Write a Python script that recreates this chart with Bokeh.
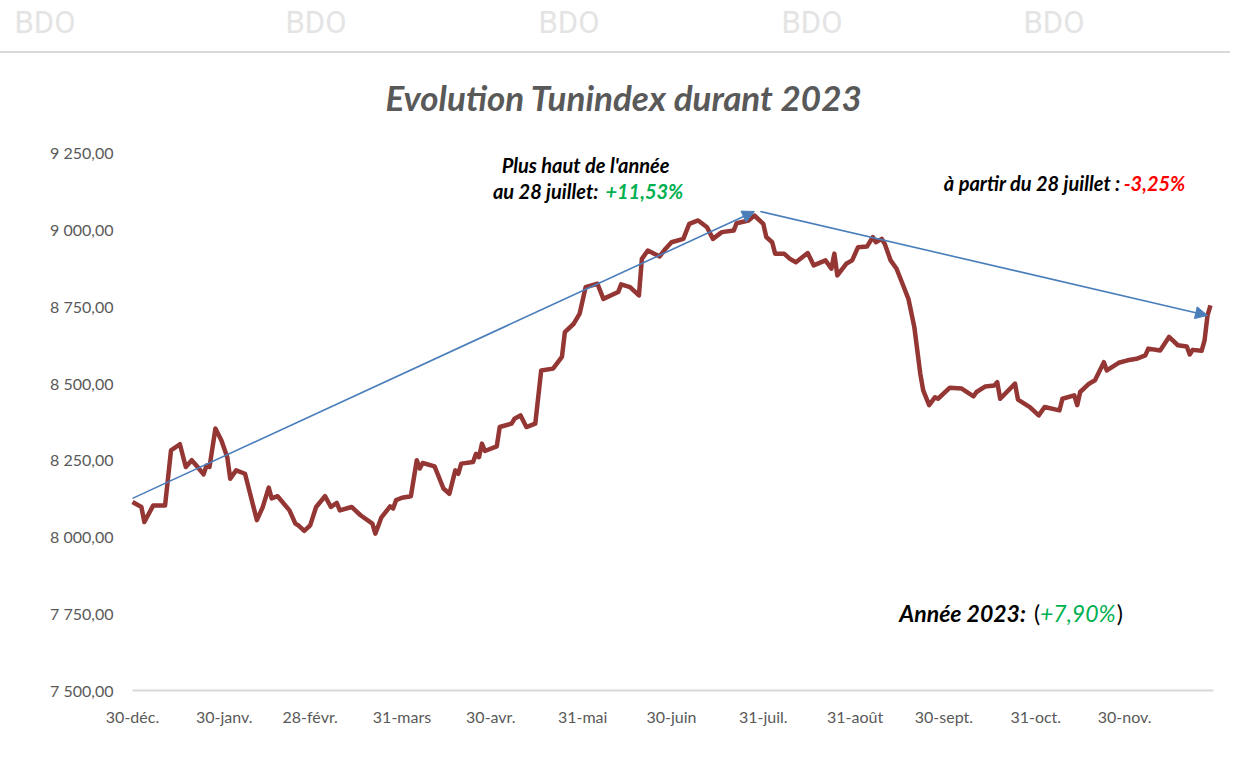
import pandas as pd
from bokeh.plotting import figure
from bokeh.layouts import column
from bokeh.models import ColumnDataSource, FixedTicker, Label, Arrow, NormalHead, Range1d, Div
from bokeh.embed import file_html
from bokeh.resources import INLINE

# ---- data ----
dates = [
    "2022-12-30", "2023-01-02", "2023-01-03", "2023-01-06", "2023-01-10", "2023-01-12", "2023-01-15",
    "2023-01-17", "2023-01-19", "2023-01-21", "2023-01-23", "2023-01-24", "2023-01-25", "2023-01-27",
    "2023-01-29", "2023-01-31", "2023-02-01", "2023-02-03", "2023-02-06", "2023-02-10", "2023-02-12",
    "2023-02-14", "2023-02-15", "2023-02-17", "2023-02-21", "2023-02-23", "2023-02-24", "2023-02-26",
    "2023-02-28", "2023-03-02", "2023-03-05", "2023-03-07", "2023-03-09", "2023-03-10", "2023-03-14",
    "2023-03-17", "2023-03-21", "2023-03-22", "2023-03-24", "2023-03-27", "2023-03-28", "2023-03-29",
    "2023-03-31", "2023-04-03", "2023-04-05", "2023-04-06", "2023-04-07", "2023-04-11", "2023-04-14",
    "2023-04-16", "2023-04-18", "2023-04-19", "2023-04-20", "2023-04-24", "2023-04-25", "2023-04-26",
    "2023-04-27", "2023-04-28", "2023-05-02", "2023-05-03", "2023-05-07", "2023-05-08", "2023-05-10",
    "2023-05-12", "2023-05-15", "2023-05-17", "2023-05-21", "2023-05-24", "2023-05-25", "2023-05-28",
    "2023-05-30", "2023-06-01", "2023-06-05", "2023-06-07", "2023-06-12", "2023-06-13", "2023-06-16",
    "2023-06-19", "2023-06-20", "2023-06-22", "2023-06-26", "2023-06-28", "2023-06-30", "2023-07-04",
    "2023-07-06", "2023-07-09", "2023-07-12", "2023-07-14", "2023-07-17", "2023-07-21", "2023-07-22",
    "2023-07-26", "2023-07-28", "2023-07-31", "2023-08-01", "2023-08-03", "2023-08-04", "2023-08-07",
    "2023-08-09", "2023-08-11", "2023-08-15", "2023-08-17", "2023-08-21", "2023-08-23", "2023-08-24",
    "2023-08-25", "2023-08-28", "2023-08-30", "2023-09-01", "2023-09-04", "2023-09-06", "2023-09-07",
    "2023-09-09", "2023-09-10", "2023-09-12", "2023-09-14", "2023-09-16", "2023-09-18", "2023-09-20",
    "2023-09-22", "2023-09-23", "2023-09-25", "2023-09-27", "2023-09-28", "2023-10-02", "2023-10-06",
    "2023-10-10", "2023-10-11", "2023-10-14", "2023-10-17", "2023-10-18", "2023-10-19", "2023-10-24",
    "2023-10-25", "2023-10-29", "2023-11-01", "2023-11-03", "2023-11-08", "2023-11-09", "2023-11-13",
    "2023-11-14", "2023-11-15", "2023-11-18", "2023-11-20", "2023-11-23", "2023-11-24", "2023-11-28",
    "2023-12-01", "2023-12-04", "2023-12-07", "2023-12-08", "2023-12-12", "2023-12-15", "2023-12-18",
    "2023-12-21", "2023-12-22", "2023-12-23", "2023-12-26", "2023-12-27", "2023-12-28", "2023-12-29",
]
tunindex = [
    8113, 8097, 8048, 8102, 8102, 8281, 8301,
    8227, 8249, 8227, 8203, 8232, 8227, 8352,
    8314, 8259, 8189, 8216, 8205, 8054, 8097,
    8160, 8125, 8132, 8086, 8043, 8037, 8019,
    8037, 8097, 8132, 8097, 8110, 8086, 8097,
    8070, 8043, 8010, 8062, 8099, 8092, 8119,
    8127, 8132, 8249, 8222, 8240, 8229, 8157,
    8140, 8216, 8205, 8238, 8243, 8270, 8259,
    8303, 8279, 8294, 8357, 8368, 8384, 8395,
    8357, 8368, 8541, 8547, 8585, 8666, 8693,
    8726, 8812, 8823, 8774, 8796, 8821, 8812,
    8785, 8904, 8931, 8912, 8937, 8958, 8969,
    9018, 9029, 9007, 8969, 8991, 8996, 9020,
    9029, 9045, 9018, 8975, 8958, 8921, 8921,
    8904, 8893, 8923, 8883, 8899, 8872, 8921,
    8850, 8888, 8899, 8942, 8944, 8975, 8958,
    8969, 8953, 8899, 8872, 8823, 8774, 8682,
    8531, 8476, 8428, 8454, 8449, 8485, 8482,
    8457, 8471, 8489, 8492, 8503, 8449, 8498,
    8446, 8422, 8395, 8422, 8411, 8449, 8460,
    8428, 8471, 8498, 8509, 8568, 8541, 8566,
    8574, 8579, 8590, 8612, 8606, 8650, 8623,
    8619, 8593, 8608, 8605, 8639, 8720, 8753,
]

y_ticks = [7500, 7750, 8000, 8250, 8500, 8750, 9000, 9250]
y_tick_labels = ["7 500,00", "7 750,00", "8 000,00", "8 250,00", "8 500,00", "8 750,00", "9 000,00", "9 250,00"]
x_tick_dates = ["2022-12-30", "2023-01-30", "2023-02-28", "2023-03-31", "2023-04-30", "2023-05-31",
                "2023-06-30", "2023-07-31", "2023-08-31", "2023-09-30", "2023-10-31", "2023-11-30"]
x_tick_labels = ["30-déc.", "30-janv.", "28-févr.", "31-mars", "30-avr.", "31-mai",
                 "30-juin", "31-juil.", "31-août", "30-sept.", "31-oct.", "30-nov."]

# trend arrows (start date, start value, end date, end value)
arrow_up = ("2022-12-30", 8125, "2023-07-28", 9058)
arrow_down = ("2023-07-30", 9058, "2023-12-28", 8720)

watermark = "BDO"

DAY = 86400000.0


def ms(s):
    return pd.Timestamp(s).value / 1e6


LINE_COLOR = "#943634"
ARROW_COLOR = "#4a7ebb"
GREY = "#595959"
GREEN = "#00B050"
RED = "#FF0000"
FONT = "Lato"

W = 1230
TOP_H = 53

# ---- watermark strip (top of the picture) ----
spans = "".join(
    f'<span style="position:absolute;left:{cx}px;top:22px;transform:translate(-50%,-50%);'
    f'line-height:1;">{watermark}</span>'
    for cx in (45, 316, 569, 812, 1054)
)
top = Div(
    text=(f'<div style="position:relative;box-sizing:border-box;width:{W}px;height:{TOP_H}px;'
          f'border-bottom:2px solid #d9d9d9;font-family:\'Liberation Sans Narrow\',Roboto,sans-serif;'
          f'font-size:31px;color:#e4e4e4;">{spans}</div>'),
    width=W, height=TOP_H, margin=(0, 0, 0, 0),
)

source = ColumnDataSource(data=dict(date=pd.to_datetime(dates), value=tunindex))

p = figure(
    width=W, height=750 - TOP_H, x_axis_type="datetime",
    output_backend="svg", toolbar_location=None,
    x_range=Range1d(ms("2022-12-30") - 4.727 * DAY, ms("2022-12-30") + 370.76 * DAY),
    y_range=Range1d(7493.5, 9572.0),
    min_border_left=118, min_border_right=0, min_border_top=0, min_border_bottom=58,
)
p.outline_line_color = None
p.background_fill_color = "white"
p.border_fill_color = "white"
p.grid.visible = False

# x axis
xa = p.xaxis[0]
xa.ticker = FixedTicker(ticks=[ms(d) for d in x_tick_dates])
xa.major_label_overrides = {ms(d): lab for d, lab in zip(x_tick_dates, x_tick_labels)}
xa.axis_line_color = None
xa.major_tick_line_color = None
xa.minor_tick_line_color = None
xa.major_tick_out = 0
xa.minor_tick_out = 0
xa.major_label_standoff = 14
xa.major_label_text_color = GREY
xa.major_label_text_font = FONT
xa.major_label_text_font_size = "16px"

# y axis
ya = p.yaxis[0]
ya.ticker = FixedTicker(ticks=y_ticks)
ya.major_label_overrides = {t: lab for t, lab in zip(y_ticks, y_tick_labels)}
ya.axis_line_color = None
ya.major_tick_line_color = None
ya.minor_tick_line_color = None
ya.major_tick_out = 0
ya.minor_tick_out = 0
ya.major_label_standoff = 5
ya.major_label_text_color = GREY
ya.major_label_text_font = FONT
ya.major_label_text_font_size = "16px"

# horizontal axis line
p.segment(x0=[ms("2022-12-30")], y0=[7500], x1=[ms("2023-12-30")], y1=[7500],
          line_color="#d9d9d9", line_width=2)

# main series
p.line(x="date", y="value", source=source, line_color=LINE_COLOR, line_width=4.5, line_join="round")

# arrows
for (xs, ys, xe, ye) in (arrow_up, arrow_down):
    p.add_layout(Arrow(
        end=NormalHead(size=12, fill_color=ARROW_COLOR, line_color=ARROW_COLOR),
        x_start=ms(xs), y_start=ys, x_end=ms(xe), y_end=ye,
        line_color=ARROW_COLOR, line_width=1.6,
    ))


def lab(x, y, text, color="#000000", size=16, style="bold italic", align="center", xo=0, font=FONT):
    p.add_layout(Label(
        x=ms(x), y=y, text=text, text_color=color, text_font_size=f"{size}px",
        text_font_style=style, text_align=align, text_baseline="middle",
        x_offset=xo, text_font=font,
    ))


# title
lab("2023-06-14", 9429, "Evolution Tunindex durant 2023", color=GREY, size=35)

# annotation: yearly high
lab("2023-06-01", 9208, "Plus haut de l'année", size=20)
lab("2023-06-06", 9126, "au 28 juillet:", size=20, align="right", xo=-2)
lab("2023-06-06", 9126, "+11,53%", color=GREEN, size=20, align="left", xo=5)

# annotation: since 28 July
lab("2023-11-29", 9152, "à partir du 28 juillet :", size=20, align="right", xo=-1)
lab("2023-11-29", 9152, "-3,25%", color=RED, size=20, align="left", xo=2)

# annotation: year 2023
lab("2023-10-27", 7751, "Année 2023:", size=23, align="right", xo=2)
lab("2023-10-27", 7751, "(", size=23, style="normal", align="left", xo=10)
lab("2023-11-29", 7751, "+7,90%", color=GREEN, size=23, style="italic", align="right", xo=-6)
lab("2023-11-29", 7751, ")", size=23, style="normal", align="left", xo=-5)

layout = column(top, p, spacing=0)
open("out.html", "w").write(file_html(layout, INLINE))
